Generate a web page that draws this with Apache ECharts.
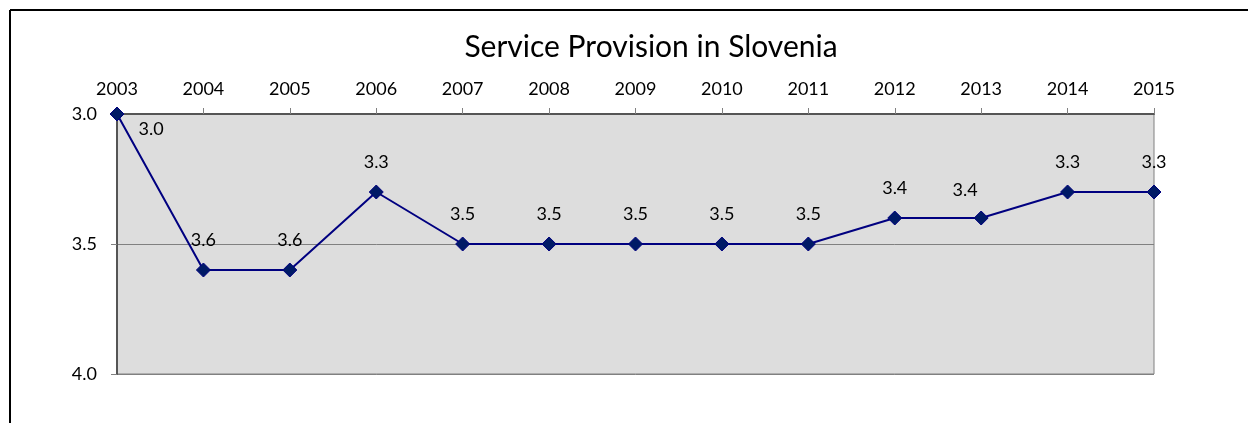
<!DOCTYPE html>
<html>
<head>
<meta charset="utf-8">
<script src="https://cdn.jsdelivr.net/npm/echarts@6/dist/echarts.min.js"></script>
<style>
html,body{margin:0;padding:0;background:#fff;}
#chart{width:1248px;height:423px;}
</style>
</head>
<body>
<div id="chart"></div>
<script>
const years = ['2003','2004','2005','2006','2007','2008','2009','2010','2011','2012','2013','2014','2015'];
const scores = [3.0, 3.6, 3.6, 3.3, 3.5, 3.5, 3.5, 3.5, 3.5, 3.4, 3.4, 3.3, 3.3];
const yTicks = [3.0, 3.5, 4.0];

const FONT = 'Lato, "DejaVu Sans", sans-serif';
const chart = echarts.init(document.getElementById('chart'), null, {renderer:'canvas'});

const seriesData = scores.map((v, i) => {
  const d = {value: v};
  if (i === 0) {
    d.label = {position: 'right', distance: 14, offset: [0, 15]};
  } else if (i === 10) {
    d.label = {offset: [-16, 2]};
  }
  return d;
});

chart.setOption({
  animation: false,
  backgroundColor: '#ffffff',
  title: {
    text: 'Service Provision in Slovenia',
    left: 646, top: 27, textAlign: 'center',
    textStyle: {fontFamily: FONT, fontSize: 30, fontWeight: 'normal', color: '#000'}
  },
  graphic: [
    {type: 'line', shape: {x1: 10, y1: 10, x2: 1248, y2: 10}, style: {stroke: '#000', lineWidth: 2}, z: 10},
    {type: 'line', shape: {x1: 10, y1: 10, x2: 10, y2: 423}, style: {stroke: '#000', lineWidth: 2}, z: 10}
  ],
  grid: {left: 117, right: 94, top: 114, bottom: 49, show: true,
    backgroundColor: '#dddddd', borderColor: '#808080', borderWidth: 1},
  xAxis: {
    type: 'category', data: years, position: 'top', boundaryGap: false,
    axisLine: {show: true, lineStyle: {color: '#555', width: 2}},
    axisTick: {show: true, inside: false, length: 6, lineStyle: {color: '#808080'}},
    axisLabel: {fontFamily: FONT, fontSize: 18, color: '#000', margin: 16},
    splitLine: {show: false}
  },
  yAxis: {
    type: 'value', inverse: true, min: 3.0, max: 4.0, interval: 0.5,
    axisLine: {show: true, lineStyle: {color: '#555', width: 2}},
    axisTick: {show: true, length: 6, lineStyle: {color: '#808080'}},
    axisLabel: {fontFamily: FONT, fontSize: 18, color: '#000', margin: 20,
      formatter: v => yTicks.includes(v) ? v.toFixed(1) : ''},
    splitLine: {show: true, lineStyle: {color: '#808080', width: 1}}
  },
  series: [{
    type: 'line', data: seriesData,
    lineStyle: {color: '#000080', width: 2},
    symbol: 'diamond', symbolSize: 14,
    itemStyle: {color: '#001a66', borderColor: '#000080', borderWidth: 1},
    label: {show: true, position: 'top', distance: 13, fontFamily: FONT, fontSize: 18, color: '#000',
      formatter: p => Number(p.value).toFixed(1)},
    z: 5
  }]
});
</script>
</body>
</html>
